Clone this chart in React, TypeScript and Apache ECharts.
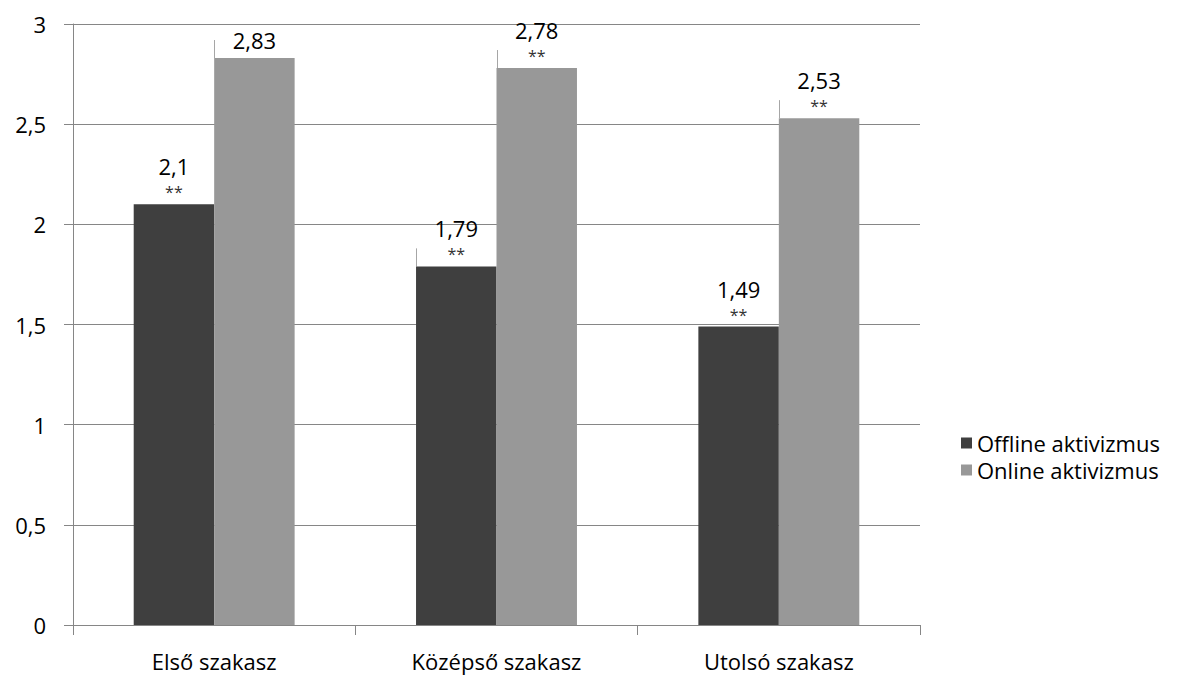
import React, { useEffect, useRef } from "react";
import * as echarts from "echarts";

const categories = ["Első szakasz", "Középső szakasz", "Utolsó szakasz"];
const offlineValues = [2.1, 1.79, 1.49];
const onlineValues = [2.83, 2.78, 2.53];
const offlineStars = ["**", "**", "**"];
const onlineStars = ["", "**", "**"];
// small whisker marks seen above some bars (offline, online)
const offlineWhisker = [null, 0.09, null];
const onlineWhisker = [0.09, 0.09, 0.09];
const yTicks = [0, 0.5, 1, 1.5, 2, 2.5, 3];

const FONT = "Open Sans";
const fmt = (v: number) => String(v).replace(".", ",");

export default function App() {
  const ref = useRef<HTMLDivElement>(null);
  useEffect(() => {
    if (!ref.current) return;
    const chart = echarts.init(ref.current, null, { renderer: "svg" });
    const labelFor = (stars: string[]) => ({
      show: true,
      position: "top",
      distance: 4,
      formatter: (p: any) => {
        const s = stars[p.dataIndex];
        return s ? `{v|${fmt(p.value)}}\n{s|${s}}` : `{v|${fmt(p.value)}}`;
      },
      rich: {
        v: { fontSize: 22, lineHeight: 28, color: "#000", fontFamily: FONT },
        s: { fontSize: 16, lineHeight: 20, color: "#333", fontFamily: FONT, verticalAlign: "bottom" },
      },
    });
    const whiskerData: any[] = [];
    offlineWhisker.forEach((w, i) => {
      if (w != null) whiskerData.push([i, offlineValues[i], w, 0]);
    });
    onlineWhisker.forEach((w, i) => {
      if (w != null) whiskerData.push([i, onlineValues[i], w, 1]);
    });
    const catGap = 0.43;
    chart.setOption({
      animation: false,
      textStyle: { fontFamily: FONT },
      grid: { left: 73, right: 267, top: 24, bottom: 55, containLabel: false },
      legend: {
        orient: "vertical",
        left: 956,
        top: 427,
        itemWidth: 11,
        itemHeight: 11,
        itemGap: 5,
        icon: "rect",
        data: ["Offline aktivizmus", "Online aktivizmus"],
        textStyle: { fontSize: 22, lineHeight: 21, color: "#000", fontFamily: FONT },
      },
      xAxis: {
        type: "category",
        data: categories,
        axisLine: { lineStyle: { color: "#868686", width: 1 } },
        axisTick: { show: true, length: 10, lineStyle: { color: "#868686" } },
        axisLabel: { fontSize: 22, color: "#000", margin: 25, fontFamily: FONT },
      },
      yAxis: {
        type: "value",
        min: 0,
        max: 3,
        interval: 0.5,
        axisLine: { show: true, lineStyle: { color: "#868686", width: 1 } },
        axisTick: { show: true, length: 9, lineStyle: { color: "#868686" } },
        splitLine: { lineStyle: { color: "#868686", width: 1 } },
        axisLabel: {
          fontSize: 22,
          color: "#000",
          margin: 27,
          fontFamily: FONT,
          formatter: (v: number) => (yTicks.includes(v) ? fmt(v) : ""),
        },
      },
      series: [
        {
          name: "Offline aktivizmus",
          type: "bar",
          data: offlineValues,
          barGap: "0%",
          barCategoryGap: catGap * 100 + "%",
          itemStyle: { color: "#3f3f3f" },
          label: labelFor(offlineStars),
        },
        {
          name: "Online aktivizmus",
          type: "bar",
          data: onlineValues,
          barGap: "0%",
          barCategoryGap: catGap * 100 + "%",
          itemStyle: { color: "#989898" },
          label: labelFor(onlineStars),
        },
        {
          type: "custom",
          silent: true,
          data: whiskerData,
          z: 1,
          renderItem: (params: any, api: any) => {
            const cat = api.value(0);
            const val = api.value(1);
            const w = api.value(2);
            const s = api.value(3);
            const band = api.size([1, 0])[0];
            const barW = (band * (1 - catGap)) / 2;
            const c = api.coord([cat, val]);
            const cTop = api.coord([cat, val + w]);
            const x = Math.round(s === 0 ? c[0] - barW : c[0]) + 0.5;
            return {
              type: "line",
              shape: { x1: x, y1: cTop[1], x2: x, y2: c[1] },
              style: { stroke: "#a6a6a6", lineWidth: 1 },
            };
          },
        },
      ],
    });
    return () => chart.dispose();
  }, []);
  return (
    <div
      ref={ref}
      style={{ position: "absolute", left: 0, top: 0, width: 1187, height: 680, background: "#fff" }}
    />
  );
}
